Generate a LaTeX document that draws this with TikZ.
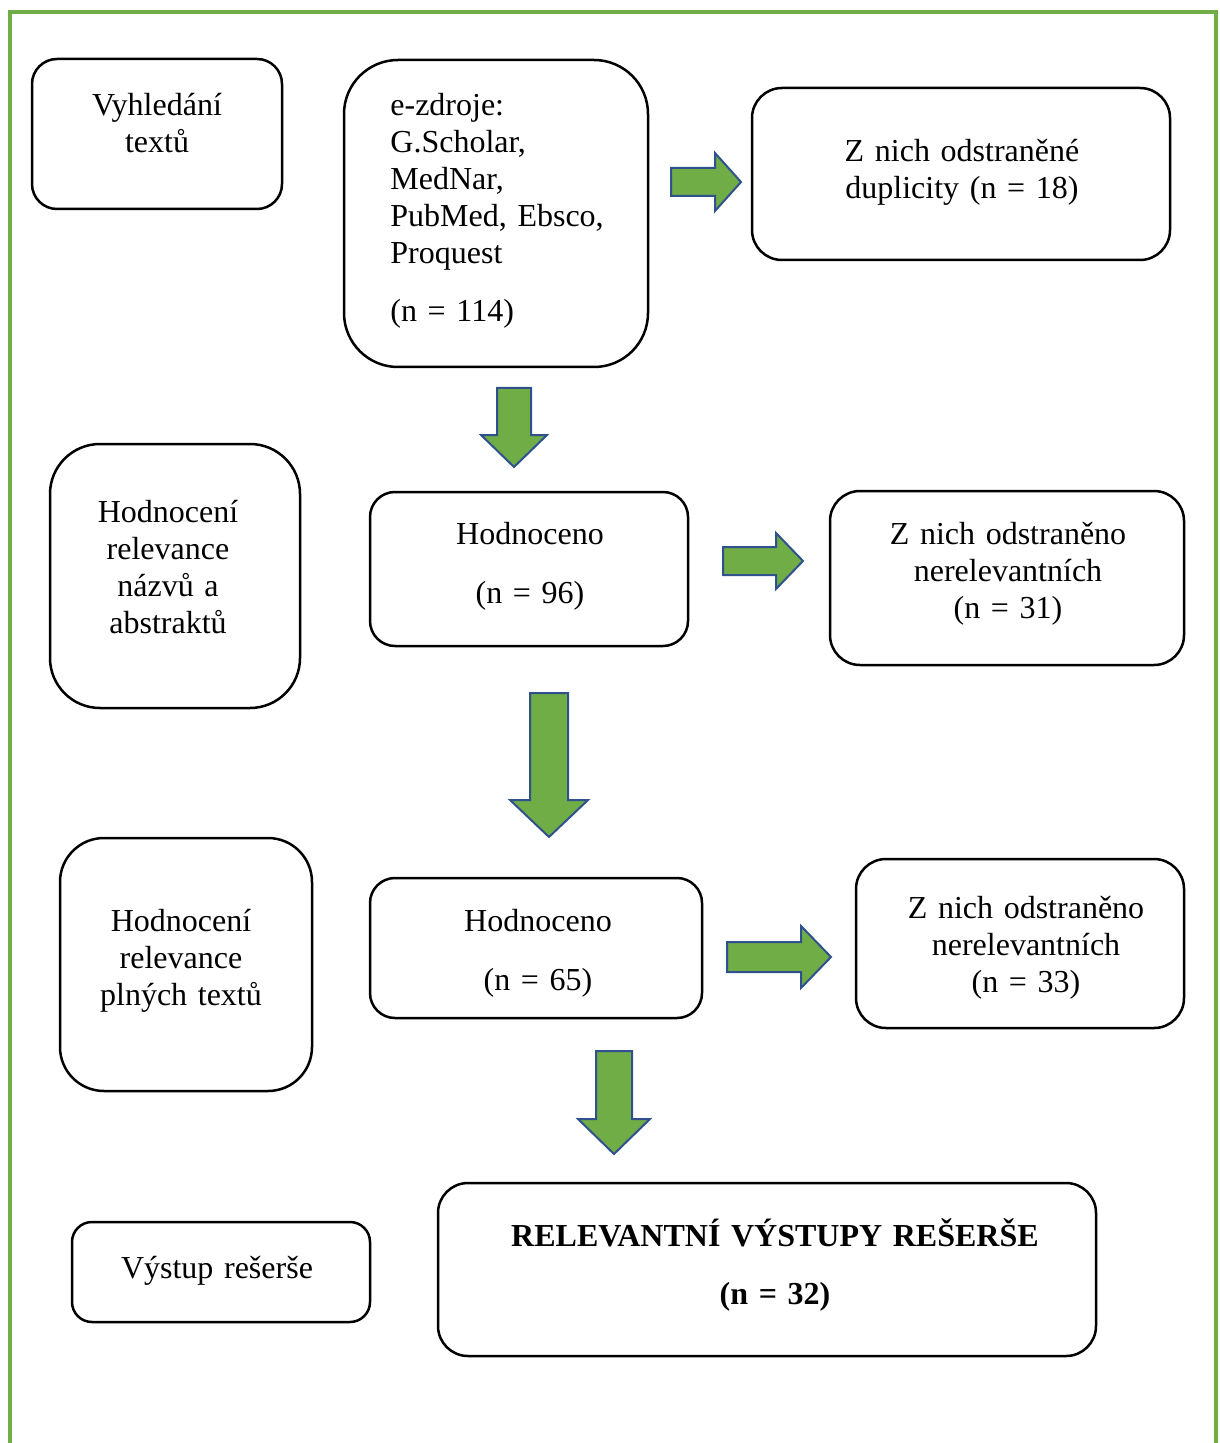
\documentclass[tikz,border=0pt]{standalone}
\usepackage{fontspec}
\setmainfont[WordSpace={0.8,0,0}]{Liberation Serif}
\definecolor{frgreen}{HTML}{70AD47}
\definecolor{arblue}{HTML}{2F528F}
\tikzset{
  box/.style={draw=black, line width=1.25pt, rectangle, inner sep=0pt, fill=white},
  txt/.style={anchor=base, inner sep=0pt, font=\fontsize{16}{18.5}\selectfont, text width=#1, align=center},
  txt/.default=200pt,
  blockarrow/.style={fill=frgreen, draw=arblue, line width=1pt, line join=miter},
  frame/.style={draw=frgreen, line width=2pt}
}
\begin{document}
\begin{tikzpicture}[x=0.5pt,y=-0.5pt]
\useasboundingbox (0,0) rectangle (1219,1443);
% green frame (open at the bottom)
\draw[frame] (10,1443) -- (10,12) -- (1216,12) -- (1216,1443);

% boxes
\node[box, rounded corners=12.5pt, minimum width=125pt, minimum height=75pt] (b1) at (157,134) {};
\node[box, rounded corners=27pt, minimum width=152pt, minimum height=153.5pt] (b2) at (496,213.5) {};
\node[box, rounded corners=15pt, minimum width=209pt, minimum height=86pt] (b3) at (961,174) {};
\node[box, rounded corners=25pt, minimum width=125pt, minimum height=132pt] (b4) at (175,576) {};
\node[box, rounded corners=12.5pt, minimum width=159pt, minimum height=77pt] (b5) at (529,569) {};
\node[box, rounded corners=15pt, minimum width=177pt, minimum height=87pt] (b6) at (1007,578) {};
\node[box, rounded corners=22pt, minimum width=126pt, minimum height=126.5pt] (b7) at (186,964.5) {};
\node[box, rounded corners=12.5pt, minimum width=166pt, minimum height=70pt] (b8) at (536,948) {};
\node[box, rounded corners=15pt, minimum width=164pt, minimum height=84.5pt] (b9) at (1020,943.5) {};
\node[box, rounded corners=15pt, minimum width=329pt, minimum height=86.5pt] (b10) at (767,1269.5) {};
\node[box, rounded corners=10pt, minimum width=149pt, minimum height=50pt] (b11) at (221,1272) {};

% texts
\node[txt] (t1) at (157,116) {Vyhledání\\textů};
\node[txt=140pt, align=left, anchor=base west] (t2) at (390,116) {e-zdroje:\\G.Scholar,\\MedNar,\\PubMed, Ebsco,\\Proquest\\[10.5pt](n = 114)};
\node[txt] (t3) at (962,162) {Z nich odstraněné\\duplicity (n = 18)};
\node[txt] (t4) at (168,522) {Hodnocení\\relevance\\názvů a\\abstraktů};
\node[txt] (t5) at (530,544) {Hodnoceno\\[11pt](n = 96)};
\node[txt] (t6) at (1008,544) {Z nich odstraněno\\nerelevantních\\(n = 31)};
\node[txt] (t7) at (181,931) {Hodnocení\\relevance\\plných textů};
\node[txt] (t8) at (538,931) {Hodnoceno\\[11pt](n = 65)};
\node[txt] (t9) at (1026,918) {Z nich odstraněno\\nerelevantních\\(n = 33)};
\node[txt=320pt, font=\fontsize{16}{18.5}\selectfont\bfseries] (t10) at (775,1246) {RELEVANTNÍ VÝSTUPY REŠERŠE\\[10.5pt](n = 32)};
\node[txt] (t11) at (217,1278) {Výstup rešerše};

% block arrows
\draw[blockarrow] (671,168) -- (715,168) -- (715,153) -- (741,182) -- (715,211) -- (715,196) -- (671,196) -- cycle;
\draw[blockarrow] (723,547) -- (776,547) -- (776,533) -- (803,561) -- (776,589) -- (776,575) -- (723,575) -- cycle;
\draw[blockarrow] (727,942) -- (801,942) -- (801,926) -- (831,957) -- (801,988) -- (801,972) -- (727,972) -- cycle;
\draw[blockarrow] (497,388) -- (531,388) -- (531,435) -- (547,435) -- (514,467) -- (481,435) -- (497,435) -- cycle;
\draw[blockarrow] (530,693) -- (568,693) -- (568,800) -- (588,800) -- (549,837) -- (510,800) -- (530,800) -- cycle;
\draw[blockarrow] (596,1051) -- (632,1051) -- (632,1119) -- (650,1119) -- (614,1154) -- (578,1119) -- (596,1119) -- cycle;
\end{tikzpicture}
\end{document}
